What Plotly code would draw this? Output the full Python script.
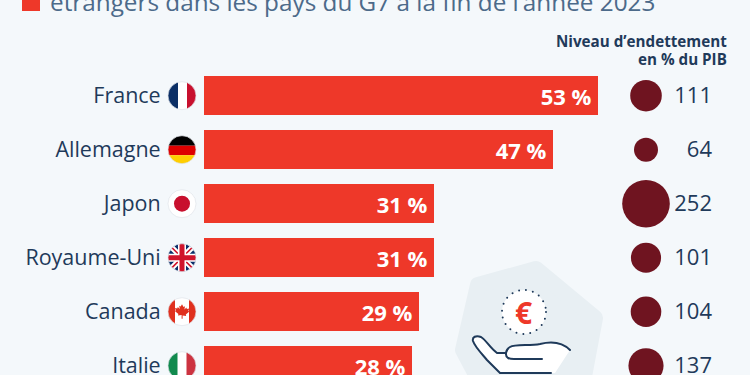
import base64
import plotly.graph_objects as go

countries = ["France", "Allemagne", "Japon", "Royaume-Uni", "Canada", "Italie"]
share_pct = [53, 47, 31, 31, 29, 28]
debt_pct_gdp = [111, 64, 252, 101, 104, 137]
title_line = "étrangers dans les pays du G7 à la fin de l’année 2023"
debt_header = ["Niveau d’endettement", "en % du PIB"]

W, H, LEFT = 750, 375, 204
ROW0, ROW = 95.7, 54
LABEL_DROP = 2
BG = "#f4f8fb"
RED = "#ee3829"
DARK = "#1f3a5a"
FONT = "Open Sans"


def px(x):
    return (x - LEFT) / (W - LEFT)


def py(y):
    return 1 - y / H


def uri(svg):
    return "data:image/svg+xml;base64," + base64.b64encode(svg.encode()).decode()


def flag(body):
    return uri(
        '<svg xmlns="http://www.w3.org/2000/svg" width="120" height="120" viewBox="0 0 30 30">'
        '<defs><clipPath id="c"><circle cx="15" cy="15" r="14"/></clipPath></defs>'
        '<circle cx="15" cy="15" r="14" fill="#fff"/>'
        f'<g clip-path="url(#c)">{body}</g>'
        '<circle cx="15" cy="15" r="14" fill="none" stroke="#dfe4ea" stroke-width="0.7"/></svg>'
    )


flags = [
    flag('<rect width="11" height="30" fill="#0b2f66"/><rect x="20" width="10" height="30" fill="#c8102e"/>'),
    flag('<rect width="30" height="11" fill="#000"/><rect y="11" width="30" height="9.5" fill="#dd0000"/>'
         '<rect y="20.5" width="30" height="10" fill="#ffce00"/>'),
    flag('<circle cx="15" cy="15" r="8" fill="#c8102e"/>'),
    flag('<rect width="30" height="30" fill="#0a2f6b"/>'
         '<path d="M1 1L29 29M29 1L1 29" stroke="#fff" stroke-width="5.5"/>'
         '<path d="M1 1L29 29M29 1L1 29" stroke="#d0142c" stroke-width="1.6"/>'
         '<path d="M15 0V30M0 15H30" stroke="#fff" stroke-width="8"/>'
         '<path d="M15 0V30M0 15H30" stroke="#d0142c" stroke-width="5"/>'),
    flag('<rect width="8" height="30" fill="#e0301e"/><rect x="22" width="8" height="30" fill="#e0301e"/>'
         '<path d="M15 7.5l1.5 2.8 1.5-.8-.6 3.4 2-2 .5 1.4 2.3-.4-.8 2.4 1 .6-3.6 3 .4 1.4-3.6-.5V22h-1v-3.7'
         'l-3.6.5.4-1.4-3.6-3 1-.6-.8-2.4 2.3.4.5-1.4 2 2-.6-3.4 1.5.8z" fill="#e0301e"/>'),
    flag('<rect width="10.5" height="30" fill="#118a4e"/><rect x="19.5" width="10.5" height="30" fill="#cc3340"/>'),
]

# Decorative icon, drawn in a 170x125 box placed at canvas (440, 250)
icon = uri(
    '<svg xmlns="http://www.w3.org/2000/svg" width="340" height="250" viewBox="0 0 170 125">'
    '<path d="M38 35L96 19L155 68L143 132L40 132L23 100Z" fill="#e8eff3" stroke="#e8eff3" '
    'stroke-width="16" stroke-linejoin="round"/>'
    '<circle cx="84" cy="62" r="22" fill="#fff" stroke="#1f3a5a" stroke-width="2" '
    'stroke-dasharray="0 7" stroke-linecap="round"/>'
    '<path d="M33 88C38 85 42 87 46 92L57 103L65 104C68 96 77 95 88 95C100 94 116 90 130 100'
    'L115 123L60 123L45 109C40 104 32 96 33 88Z" fill="#fff"/>'
    '<path d="M130 100C122 92 112 91 100 94C90 96 75 94 70 97C65 100 65 106 68 108C70 109 72 109 74 109L102 109" '
    'fill="none" stroke="#1f3a5a" stroke-width="2" stroke-linecap="round"/>'
    '<path d="M66 103L57 103C50 98 46 90 41 87C36 85 32 87 33 91C35 97 42 104 47 110L60 123L111 123" '
    'fill="none" stroke="#1f3a5a" stroke-width="2" stroke-linecap="round"/></svg>'
)

images = [
    dict(source=icon, xref="paper", yref="paper", x=px(440), y=py(250), sizex=170 / (W - LEFT), sizey=125 / H,
         xanchor="left", yanchor="top", sizing="stretch", layer="below")
]
for i, src in enumerate(flags):
    cy = ROW0 + ROW * i
    images.append(dict(source=src, xref="paper", yref="paper", x=px(167), y=py(cy - 15), sizex=30 / (W - LEFT),
                       sizey=30 / H, xanchor="left", yanchor="top", sizing="stretch", layer="above"))

fig = go.Figure()
fig.add_bar(
    x=share_pct, y=countries, orientation="h", width=39 / ROW, marker=dict(color=RED, line_width=0),
    text=[f"{v} %\u2009" for v in share_pct], textposition="inside", insidetextanchor="end", textangle=0,
    insidetextfont=dict(family=FONT, size=22, color="#fff", weight=700), cliponaxis=False, showlegend=False,
)
fig.add_scatter(
    x=["PIB"] * len(countries), y=countries, xaxis="x2", mode="markers",
    marker=dict(size=debt_pct_gdp, sizemode="area", sizeref=2 / 9, color="#6f1420", line_width=0, opacity=1),
    cliponaxis=False, showlegend=False,
)
fig.add_scatter(
    x=[0] * len(countries), y=countries, xaxis="x3", yaxis="y2", mode="text", text=[str(v) for v in debt_pct_gdp],
    textposition="middle left", textfont=dict(family=FONT, size=22, color=DARK), cliponaxis=False, showlegend=False,
)

fig.update_layout(
    width=W, height=H, autosize=False, margin=dict(l=LEFT, r=0, t=0, b=0, pad=0, autoexpand=False),
    paper_bgcolor=BG, plot_bgcolor=BG, bargap=0, showlegend=False, images=images,
    xaxis=dict(range=[0, (W - LEFT) / 7.43], visible=False),
    xaxis2=dict(overlaying="x", type="category", categoryorder="array", categoryarray=["PIB"],
                range=[(LEFT - 646) / 100, (W - 646) / 100], visible=False),
    xaxis3=dict(overlaying="x", range=[(LEFT - 712) / 100, (W - 712) / 100], visible=False, anchor="y2"),
    yaxis=dict(type="category", categoryorder="array", categoryarray=countries,
               range=[(H - ROW0) / ROW, -ROW0 / ROW], showgrid=False, zeroline=False, showline=False,
               ticks="outside", ticklen=38, tickcolor="rgba(0,0,0,0)",
               tickfont=dict(family=FONT, size=21.5, color=DARK)),
    yaxis2=dict(overlaying="y", type="category", categoryorder="array", categoryarray=countries, visible=False,
                range=[(H - ROW0 - LABEL_DROP) / ROW, (-ROW0 - LABEL_DROP) / ROW]),
    shapes=[dict(type="rect", xref="paper", yref="paper", x0=px(22), x1=px(40), y0=py(11), y1=py(-2),
                 fillcolor=RED, line_width=0)],
    annotations=[
        dict(text=title_line, xref="paper", yref="paper", x=px(48), y=py(20), xanchor="left", yanchor="bottom",
             showarrow=False, font=dict(family=FONT, size=24.3, color="#4c6a8a")),
        dict(text=debt_header[0], xref="paper", yref="paper", x=px(729), y=py(41), xanchor="right", yanchor="middle",
             align="right", showarrow=False, font=dict(family=FONT, size=15.2, color=DARK, weight=700)),
        dict(text=debt_header[1], xref="paper", yref="paper", x=px(729), y=py(58.5), xanchor="right", yanchor="middle",
             align="right", showarrow=False, font=dict(family=FONT, size=15.2, color=DARK, weight=700)),
        dict(text="€", xref="paper", yref="paper", x=px(523), y=py(312), xanchor="center", yanchor="middle",
             showarrow=False, font=dict(family=FONT, size=30, color=RED, weight=700)),
    ],
)
fig.write_html("out.html", config=dict(displayModeBar=False),
               post_script="document.body.style.margin='0';document.body.style.background='#f4f8fb';")
